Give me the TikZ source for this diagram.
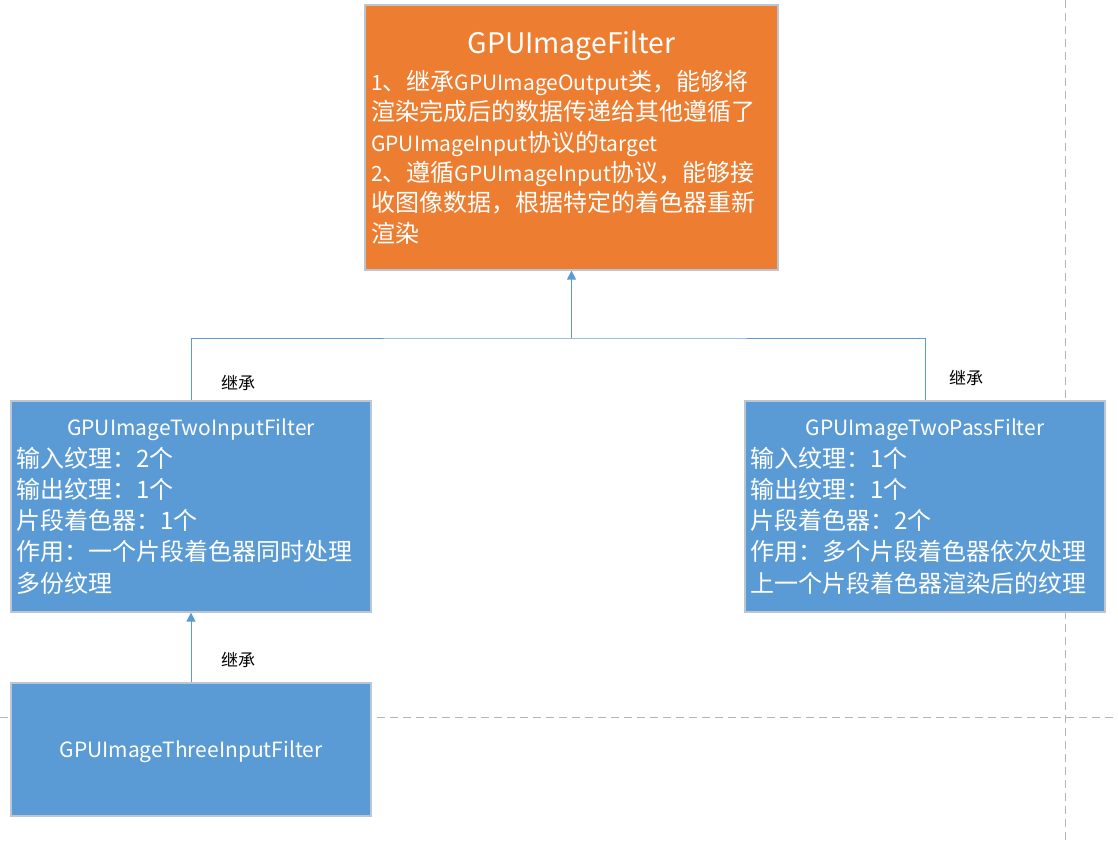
\documentclass[tikz,border=0pt]{standalone}
\usepackage{fontspec}
\setmainfont{Noto Sans CJK SC}
\usetikzlibrary{arrows.meta}
\definecolor{filterorange}{HTML}{ED7D31}
\definecolor{filterblue}{HTML}{5B9BD5}
\definecolor{boxedge}{HTML}{BCC6D2}
\definecolor{guidegray}{HTML}{B4B4B4}
% latin runs are set a bit smaller than the hanzi
\newcommand\lat[1]{{\fontsize{21}{31}\selectfont #1}}

\tikzset{
	classbox/.style={draw=boxedge, line width=1.2pt, minimum width=360pt, inner sep=0pt},
	classname/.style={text=white, font=\fontsize{21}{26}\selectfont, anchor=base, inner sep=0pt},
	classline/.style={text=white, font=\fontsize{24}{31}\selectfont, anchor=base west, inner sep=0pt},
	inherit/.style={font=\fontsize{17}{20}\selectfont, inner sep=0pt},
	link/.style={draw=filterblue, line width=1pt},
	tip/.style={-{Triangle[width=9pt,length=9pt]}},
}

\begin{document}
\begin{tikzpicture}[x=1pt,y=-1pt]
	\useasboundingbox (0,0) rectangle (1118,842);
	\def\dy{31.2}
	
	% guide lines behind the boxes
	\draw[guidegray, dash pattern=on 8pt off 5pt] (1065,0) -- (1065,842);
	\draw[guidegray, dash pattern=on 8pt off 5pt] (0,717) -- (1118,717);
	
	% base class
	\node[classbox, fill=filterorange, minimum width=413pt, minimum height=265pt] (filter) at (571.5,137.5) {};
	\node[classname, font=\fontsize{28.3}{34}\selectfont] (filtername) at (571.5,54) {GPUImageFilter};
	\foreach \txt [count=\i] in {\lat{1}、继承\lat{GPUImageOutput}类，能够将, 渲染完成后的数据传递给其他遵循了, \lat{GPUImageInput}协议的\lat{target}, \lat{2}、遵循\lat{GPUImageInput}协议，能够接, 收图像数据，根据特定的着色器重新, 渲染}
		\node[classline] (filterline\i) at (371,60.4+30.3*\i) {\txt};
	
	% two input filter
	\node[classbox, fill=filterblue, minimum height=211pt] (twoinput) at (191,506.5) {};
	\node[classname] (twoinputname) at (191,435) {GPUImageTwoInputFilter};
	\foreach \txt [count=\i] in {输入纹理：2个, 输出纹理：1个, 片段着色器：1个, 作用：一个片段着色器同时处理, 多份纹理}
		\node[classline] (twoinputline\i) at (16,436+\dy*\i) {\txt};
	
	% two pass filter
	\node[classbox, fill=filterblue, minimum height=211pt] (twopass) at (925,506.5) {};
	\node[classname] (twopassname) at (925,435) {GPUImageTwoPassFilter};
	\foreach \txt [count=\i] in {输入纹理：1个, 输出纹理：1个, 片段着色器：2个, 作用：多个片段着色器依次处理, 上一个片段着色器渲染后的纹理}
		\node[classline] (twopassline\i) at (750,436+\dy*\i) {\txt};
	
	% three input filter
	\node[classbox, fill=filterblue, minimum height=133pt] (threeinput) at (191,749.5) {};
	\node[classname] (threeinputname) at (191,757) {GPUImageThreeInputFilter};
	
	% inheritance
	\coordinate (fork) at (571.5,338);
	\draw[link] (twoinput.north) |- (fork) -| (twopass.north);
	\draw[link, tip] (fork) -- (filter.south);
	\draw[link, tip] (threeinput.north) -- (twoinput.south);
	\node[inherit] (inheritleft) at (238,383) {继承};
	\node[inherit] (inheritright) at (966,378) {继承};
	\node[inherit] (inheritlow) at (238,660) {继承};
\end{tikzpicture}
\end{document}
